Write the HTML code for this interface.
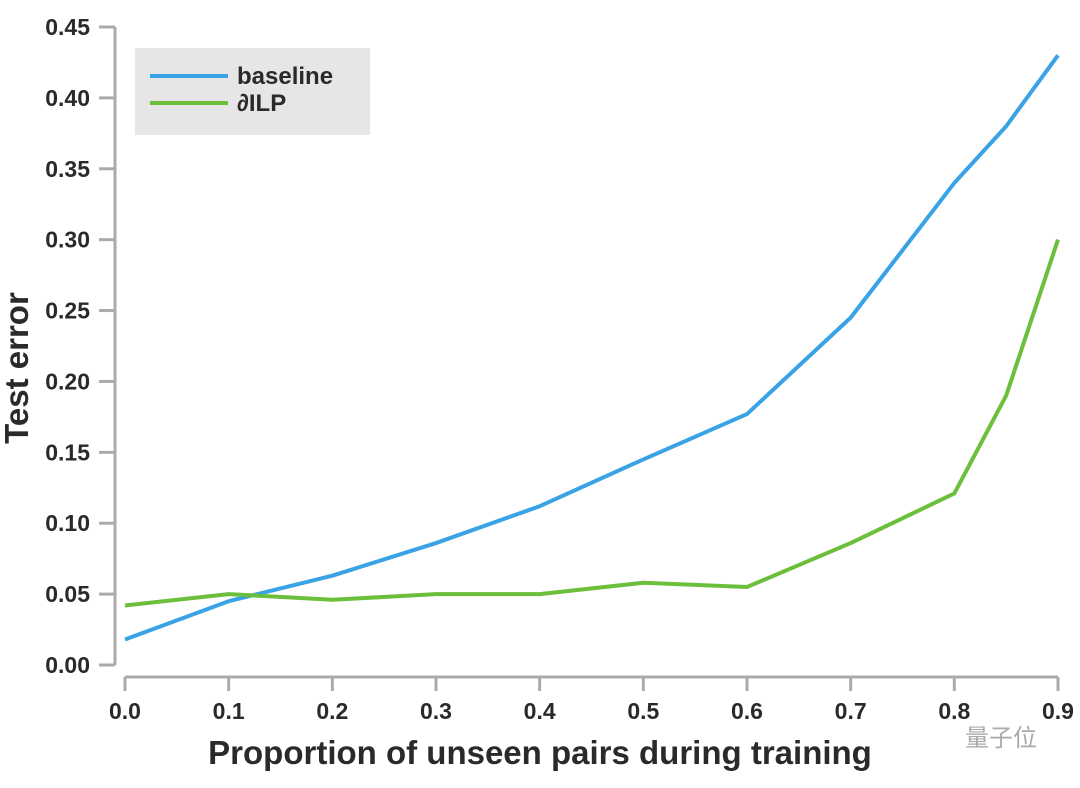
<!DOCTYPE html>
<html><head><meta charset="utf-8"><style>
body{margin:0;background:#fff;}
svg text{font-family:"Liberation Sans",Arial,sans-serif;font-weight:bold;fill:#2a2a2a;}
</style></head><body>
<svg width="1080" height="783" viewBox="0 0 1080 783" xmlns="http://www.w3.org/2000/svg">
<g id="axes"></g>
<g id="series"></g>
<g>
<rect x="135" y="48" width="235" height="87" fill="#e6e6e6"/>
<line x1="150" y1="76" x2="228" y2="76" stroke="#3aa3e6" stroke-width="4"/>
<text x="237" y="84" font-size="24">baseline</text>
<line x1="150" y1="103" x2="228" y2="103" stroke="#6cbf3a" stroke-width="4"/>
<text x="237" y="111" font-size="24">∂ILP</text>
</g>
<text x="540" y="764" font-size="33" text-anchor="middle">Proportion of unseen pairs during training</text>
<text transform="translate(28,368) rotate(-90)" font-size="33" text-anchor="middle">Test error</text>
<text x="965" y="746" font-size="24" style="fill:#aaa;font-weight:normal;font-family:'Noto Sans CJK SC',sans-serif">量子位</text>
</svg>
<script>
const xs=[0,0.1,0.2,0.3,0.4,0.5,0.6,0.7,0.8,0.85,0.9];
const baseline=[0.018,0.045,0.063,0.086,0.112,0.145,0.177,0.245,0.34,0.38,0.43];
const dilp=[0.042,0.050,0.046,0.050,0.050,0.058,0.055,0.086,0.121,0.19,0.30];
const xTicks=[0,0.1,0.2,0.3,0.4,0.5,0.6,0.7,0.8,0.9];
const yTicks=[0,0.05,0.1,0.15,0.2,0.25,0.3,0.35,0.4,0.45];
const NS="http://www.w3.org/2000/svg";
const X=v=>125+v*(1058-125)/0.9;
const Y=v=>665-v*(665-27)/0.45;
const ax=document.getElementById('axes');
function mk(t,a,p){const e=document.createElementNS(NS,t);for(const k in a)e.setAttribute(k,a[k]);p.appendChild(e);return e;}
let yl=mk('line',{x1:115,y1:Y(0.45),x2:115,y2:Y(0),stroke:'#aaa','stroke-width':3},ax);


let xl=mk('line',{x1:X(0),y1:677,x2:X(0.9),y2:677,stroke:'#aaa','stroke-width':3},ax);


yTicks.forEach(v=>{
 let t=mk('line',{x1:99,y1:Y(v),x2:115,y2:Y(v),stroke:'#aaa','stroke-width':3},ax);
 
 
 let l=mk('text',{x:90,y:Y(v)+8,'font-size':23,'text-anchor':'end'},ax);
 l.textContent=v.toFixed(2);
 
 
});
xTicks.forEach(v=>{
 let t=mk('line',{x1:X(v),y1:677,x2:X(v),y2:691,stroke:'#aaa','stroke-width':3},ax);
 
 
 let l=mk('text',{x:X(v),y:719,'font-size':23,'text-anchor':'middle'},ax);
 l.textContent=v.toFixed(1);
 
 
});
const sg=document.getElementById('series');
function line(d,c,n){
 let p=mk('polyline',{points:xs.map((x,i)=>X(x)+','+Y(d[i])).join(' '),fill:'none',stroke:c,'stroke-width':4,'stroke-linejoin':'round'},sg);
 
 
}
line(baseline,'#3aa3e6','baseline-line');
line(dilp,'#6cbf3a','dilp-line');
</script>
</body></html>
